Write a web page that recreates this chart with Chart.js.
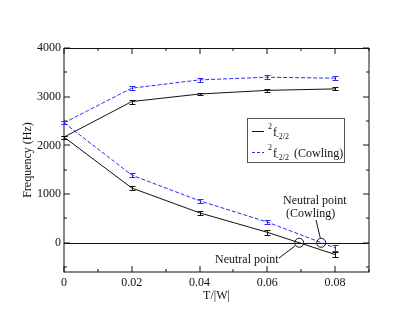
<!DOCTYPE html>
<html>
<head>
<meta charset="utf-8">
<script src="https://cdn.jsdelivr.net/npm/chart.js@4/dist/chart.umd.min.js"></script>
</head>
<body style="margin:0; background:#fff">
<canvas id="chart" width="415" height="321"></canvas>
<script>
// T/|W| values and frequencies (Hz)
const temps = [0, 0.02, 0.04, 0.06, 0.08];
const upper = [2170, 2900, 3055, 3130, 3160];
const upperErr = [30, 40, 30, 30, 30];
const lower = [2170, 1125, 615, 215, -240];
const lowerErr = [30, 50, 40, 45, 50];
const upperCowling = [2465, 3175, 3345, 3400, 3380];
const upperCowlingErr = [30, 40, 40, 40, 40];
const lowerCowling = [2465, 1390, 862, 425, -105];
const lowerCowlingErr = [30, 40, 40, 40, 65];
const xTicks = [0, 0.02, 0.04, 0.06, 0.08];
const yTicks = [0, 1000, 2000, 3000, 4000];
const neutralT = [0.0694, 0.0759];

const BLACK = '#111';
const BLUE = '#2a2aff';
const FONT = '"Liberation Serif", "DejaVu Serif", serif';

function pts(ys) {
    return temps.map((t, i) => ({ x: t, y: ys[i] }));
}

function series(data, err, color, dash) {
    return {
        data: pts(data),
        err: err,
        borderColor: color,
        borderWidth: 1,
        borderDash: dash,
        pointRadius: 0,
        fill: false,
        tension: 0
    };
}

const overlay = {
    id: 'overlay',
    afterDraw(chart) {
        const { ctx, chartArea: a, scales: { x, y } } = chart;
        const L = Math.round(a.left), R = Math.round(a.right);
        const T = Math.round(a.top), B = Math.round(a.bottom);
        ctx.save();
        ctx.setLineDash([]);
        ctx.lineWidth = 1;
        ctx.strokeStyle = BLACK;

        // zero line
        const y0 = Math.round(y.getPixelForValue(0)) + 0.5;
        ctx.beginPath();
        ctx.moveTo(L, y0); ctx.lineTo(R, y0);
        ctx.stroke();

        // frame
        ctx.strokeRect(L, T + 0.5, R - L, B - T - 0.5);

        // inward ticks on all four sides
        ctx.beginPath();
        for (let k = 0; k <= 9; k++) {
            const px = Math.round(x.getPixelForValue(k * 0.01));
            const len = k % 2 === 0 ? 6 : 3;
            ctx.moveTo(px, B); ctx.lineTo(px, B - len);
            ctx.moveTo(px, T); ctx.lineTo(px, T + len);
        }
        for (let k = -1; k <= 8; k++) {
            const py = Math.round(y.getPixelForValue(k * 500));
            const len = k % 2 === 0 ? 6 : 3;
            ctx.moveTo(L, py); ctx.lineTo(L + len, py);
            ctx.moveTo(R, py); ctx.lineTo(R - len, py);
        }
        ctx.stroke();

        // error bars
        chart.data.datasets.forEach(ds => {
            ctx.strokeStyle = ds.borderColor;
            ds.data.forEach((p, i) => {
                const px = Math.round(x.getPixelForValue(p.x)) + 0.5;
                const y1 = Math.round(y.getPixelForValue(p.y + ds.err[i])) + 0.5;
                const y2 = Math.round(y.getPixelForValue(p.y - ds.err[i])) + 0.5;
                ctx.beginPath();
                ctx.moveTo(px, y1); ctx.lineTo(px, y2);
                ctx.moveTo(px - 3, y1); ctx.lineTo(px + 3, y1);
                ctx.moveTo(px - 3, y2); ctx.lineTo(px + 3, y2);
                ctx.stroke();
            });
        });

        // neutral points
        ctx.strokeStyle = BLACK;
        const circ = neutralT.map(t => [x.getPixelForValue(t), y.getPixelForValue(0)]);
        circ.forEach(c => {
            ctx.beginPath();
            ctx.arc(c[0], c[1], 4.5, 0, Math.PI * 2);
            ctx.stroke();
        });

        // axis titles
        ctx.fillStyle = BLACK;
        ctx.font = '12px ' + FONT;
        ctx.textAlign = 'center';
        ctx.textBaseline = 'middle';
        ctx.fillText('T/|W|', (a.left + a.right) / 2, 296);
        ctx.save();
        ctx.translate(28, (a.top + a.bottom) / 2);
        ctx.rotate(-Math.PI / 2);
        ctx.fillText('Frequency (Hz)', 0, 0);
        ctx.restore();

        // annotations
        ctx.textAlign = 'left';
        ctx.textBaseline = 'alphabetic';
        ctx.fillText('Neutral point', 215, 263);
        ctx.fillText('Neutral point', 283, 204);
        ctx.fillText('(Cowling)', 286, 217);
        ctx.beginPath();
        ctx.moveTo(279, 258); ctx.lineTo(circ[0][0] - 4, circ[0][1] + 3);
        ctx.moveTo(316, 220); ctx.lineTo(circ[1][0] - 1, circ[1][1] - 5);
        ctx.stroke();

        // legend
        ctx.fillStyle = '#fff';
        ctx.fillRect(247, 118, 98, 45);
        ctx.strokeStyle = '#555';
        ctx.strokeRect(247.5, 118.5, 97, 44);
        const rows = [[BLACK, [], 131.5, ''], [BLUE, [3, 2], 152.5, '(Cowling)']];
        rows.forEach(r => {
            ctx.strokeStyle = r[0];
            ctx.setLineDash(r[1]);
            ctx.beginPath();
            ctx.moveTo(252, r[2]); ctx.lineTo(264, r[2]);
            ctx.stroke();
            ctx.setLineDash([]);
            ctx.fillStyle = BLACK;
            ctx.font = '8px ' + FONT;
            ctx.fillText('2', 268, r[2] - 3);
            ctx.font = '12px ' + FONT;
            ctx.fillText('f', 273, r[2] + 4);
            ctx.font = '8px ' + FONT;
            ctx.fillText('-2/2', 276, r[2] + 7);
            ctx.font = '12px ' + FONT;
            ctx.fillText(r[3], 294, r[2] + 4);
        });

        ctx.restore();
    }
};

const ctx = document.getElementById('chart').getContext('2d');
new Chart(ctx, {
    type: 'line',
    data: {
        datasets: [
            series(upper, upperErr, BLACK, []),
            series(lower, lowerErr, BLACK, []),
            series(upperCowling, upperCowlingErr, BLUE, [4, 2]),
            series(lowerCowling, lowerCowlingErr, BLUE, [4, 2])
        ]
    },
    options: {
        responsive: false,
        animation: false,
        layout: { padding: { top: 48, right: 46, left: 0, bottom: 0 } },
        plugins: { legend: { display: false }, tooltip: { enabled: false } },
        scales: {
            x: {
                type: 'linear',
                min: 0,
                max: 0.09,
                afterBuildTicks: s => { s.ticks = xTicks.map(v => ({ value: v })); },
                afterFit: s => { s.height = 49; },
                grid: { display: false, drawTicks: false },
                border: { display: false },
                ticks: {
                    color: BLACK,
                    padding: 4,
                    maxRotation: 0,
                    font: { family: FONT, size: 12 },
                    callback: v => String(v)
                }
            },
            y: {
                type: 'linear',
                min: -600,
                max: 4000,
                afterBuildTicks: s => { s.ticks = yTicks.map(v => ({ value: v })); },
                afterFit: s => { s.width = 64; },
                grid: { display: false, drawTicks: false },
                border: { display: false },
                ticks: {
                    color: BLACK,
                    padding: 3,
                    font: { family: FONT, size: 12 },
                    callback: v => String(v)
                }
            }
        }
    },
    plugins: [overlay]
});
</script>
</body>
</html>
